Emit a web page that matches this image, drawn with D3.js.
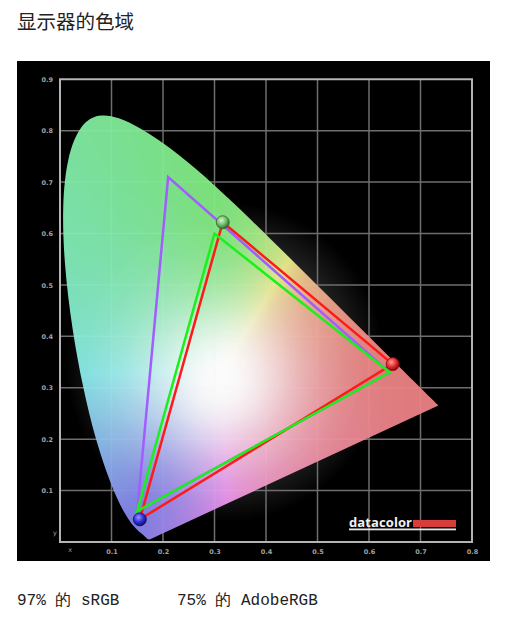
<!DOCTYPE html>
<html lang="zh">
<head>
  <meta charset="UTF-8">
  <title>显示器的色域</title>
  <style>
    body { margin: 0; background: #fff; }
  </style>
</head>
<body>
  <script src="https://cdn.jsdelivr.net/npm/d3@7/dist/d3.min.js"></script>
  <script>
// CIE 1931 光谱轨迹 (380-700nm)
const locusX = [0.1741, 0.1740, 0.1738, 0.1736, 0.1733, 0.1730, 0.1726, 0.1721, 0.1714, 0.1703,
  0.1689, 0.1669, 0.1644, 0.1611, 0.1566, 0.1510, 0.1440, 0.1355, 0.1241, 0.1096,
  0.0913, 0.0687, 0.0454, 0.0235, 0.0082, 0.0039, 0.0139, 0.0389, 0.0743, 0.1142,
  0.1547, 0.1929, 0.2296, 0.2658, 0.3016, 0.3373, 0.3731, 0.4087, 0.4441, 0.4788,
  0.5125, 0.5448, 0.5752, 0.6029, 0.6270, 0.6482, 0.6658, 0.6801, 0.6915, 0.7006,
  0.7079, 0.7140, 0.7190, 0.7230, 0.7260, 0.7283, 0.7300, 0.7311, 0.7320, 0.7347];
const locusY = [0.0050, 0.0050, 0.0049, 0.0049, 0.0048, 0.0048, 0.0048, 0.0048, 0.0051, 0.0058,
  0.0069, 0.0086, 0.0109, 0.0138, 0.0177, 0.0227, 0.0297, 0.0399, 0.0578, 0.0868,
  0.1327, 0.2007, 0.2950, 0.4127, 0.5384, 0.6548, 0.7502, 0.8120, 0.8338, 0.8262,
  0.8059, 0.7816, 0.7543, 0.7243, 0.6923, 0.6589, 0.6245, 0.5896, 0.5547, 0.5202,
  0.4866, 0.4544, 0.4242, 0.3965, 0.3725, 0.3514, 0.3340, 0.3197, 0.3083, 0.2993,
  0.2920, 0.2859, 0.2809, 0.2770, 0.2740, 0.2717, 0.2700, 0.2689, 0.2680, 0.2653];

// 三角形顶点 R, G, B
const adobeX = [0.64, 0.21, 0.15];
const adobeY = [0.33, 0.71, 0.06];
const srgbX = [0.64, 0.30, 0.15];
const srgbY = [0.33, 0.60, 0.06];
const displayX = [0.646, 0.316, 0.155];
const displayY = [0.346, 0.622, 0.044];

const xTicks = [0.1, 0.2, 0.3, 0.4, 0.5, 0.6, 0.7, 0.8];
const yTicks = [0.1, 0.2, 0.3, 0.4, 0.5, 0.6, 0.7, 0.8, 0.9];
const footTexts = ['97% 的 sRGB', '75% 的 AdobeRGB'];

const width = 526, height = 624;

const svg = d3.select('body').append('svg')
  .attr('width', width)
  .attr('height', height);

// 标题
svg.append('text')
  .attr('x', 17).attr('y', 29)
  .attr('font-family', '"Noto Sans CJK SC", sans-serif')
  .attr('font-size', 19.5)
  .attr('fill', '#222')
  .text('显示器的色域');

// 黑色背景
svg.append('rect')
  .attr('x', 17).attr('y', 61)
  .attr('width', 473).attr('height', 500)
  .attr('fill', '#000');

const xScale = d3.scaleLinear().domain([0, 0.8]).range([60, 472]);
const yScale = d3.scaleLinear().domain([0, 0.9]).range([542, 79.3]);

const defs = svg.append('defs');

// 白点周围的光晕
const glow = defs.append('radialGradient').attr('id', 'glow');
glow.append('stop').attr('offset', '0%').attr('stop-color', '#fff').attr('stop-opacity', 0.8);
glow.append('stop').attr('offset', '45%').attr('stop-color', '#fff').attr('stop-opacity', 0.28);
glow.append('stop').attr('offset', '100%').attr('stop-color', '#fff').attr('stop-opacity', 0);

svg.append('circle')
  .attr('cx', xScale(0.32)).attr('cy', yScale(0.35))
  .attr('r', 160)
  .attr('fill', 'url(#glow)');

// 网格
const grid = svg.append('g').attr('stroke', '#6e6e6e').attr('stroke-width', 1.5);
grid.selectAll('.vx').data(xTicks.slice(0, -1)).enter().append('line')
  .attr('x1', d => xScale(d)).attr('x2', d => xScale(d))
  .attr('y1', yScale(0)).attr('y2', yScale(0.9));
grid.selectAll('.hy').data(yTicks.slice(0, -1)).enter().append('line')
  .attr('x1', xScale(0)).attr('x2', xScale(0.8))
  .attr('y1', d => yScale(d)).attr('y2', d => yScale(d));

// 色度图填色
const locus = locusX.map((x, i) => [x, locusY[i]]);
const line = d3.line().x(d => xScale(d[0])).y(d => yScale(d[1]));
const smooth = d3.line().x(d => xScale(d[0])).y(d => yScale(d[1])).curve(d3.curveBasis);

defs.append('clipPath').attr('id', 'locus-clip')
  .append('path').attr('d', smooth(locus) + 'Z');

const x0 = Math.floor(xScale(0)), x1 = Math.ceil(xScale(0.8));
const y0 = Math.floor(yScale(0.9)), y1 = Math.ceil(yScale(0));
const cw = x1 - x0, ch = y1 - y0;
const canvas = document.createElement('canvas');
canvas.width = cw; canvas.height = ch;
const ctx = canvas.getContext('2d');
const img = ctx.createImageData(cw, ch);
for (let py = 0; py < ch; py++) {
  for (let px = 0; px < cw; px++) {
    const cx = xScale.invert(x0 + px + 0.5);
    const cy = Math.max(yScale.invert(y0 + py + 0.5), 0.004);
    const X = cx / cy, Y = 1, Z = Math.max(1 - cx - cy, 0) / cy;
    let r = 3.2406 * X - 1.5372 * Y - 0.4986 * Z;
    let g = -0.9689 * X + 1.8758 * Y + 0.0415 * Z;
    let b = 0.0557 * X - 0.2040 * Y + 1.0570 * Z;
    const m = Math.min(r, g, b);
    if (m < 0) { r -= m; g -= m; b -= m; }
    const M = Math.max(r, g, b) || 1;
    r /= M; g /= M; b /= M;
    // 淡化 + 白点光晕
    const d = Math.hypot(cx - 0.31, cy - 0.31) / 0.17;
    const w = Math.exp(-(d * d));
    const c = [r, g, b].map(v => {
      const p = 0.92 * (0.55 + 0.45 * Math.pow(v, 1.5));
      return (p * (1 - w) + w) * 255;
    });
    const k = (py * cw + px) * 4;
    img.data[k] = c[0]; img.data[k + 1] = c[1]; img.data[k + 2] = c[2]; img.data[k + 3] = 255;
  }
}
ctx.putImageData(img, 0, 0);

svg.append('image')
  .attr('x', x0).attr('y', y0)
  .attr('width', cw).attr('height', ch)
  .attr('preserveAspectRatio', 'none')
  .attr('opacity', 0.95)
  .attr('clip-path', 'url(#locus-clip)')
  .attr('href', canvas.toDataURL());

// 边框
svg.append('path')
  .attr('d', `M${xScale(0.8)},${yScale(0)}L${xScale(0)},${yScale(0)}L${xScale(0)},${yScale(0.9)}L${xScale(0.8)},${yScale(0.9)}Z`)
  .attr('fill', 'none')
  .attr('stroke', '#b4b4b4')
  .attr('stroke-width', 2);

// 坐标轴
const xAxis = svg.append('g')
  .attr('transform', `translate(0, ${yScale(0) + 3})`)
  .call(d3.axisBottom(xScale).tickValues(xTicks).tickSize(0).tickFormat(d3.format('.1f')));
const yAxis = svg.append('g')
  .attr('transform', `translate(${xScale(0) - 4}, 0)`)
  .call(d3.axisLeft(yScale).tickValues(yTicks).tickSize(0).tickFormat(d3.format('.1f')));
[xAxis, yAxis].forEach(a => {
  a.select('.domain').remove();
  a.selectAll('text')
    .attr('fill', '#a0a0a0')
    .attr('font-family', '"DejaVu Sans", sans-serif')
    .attr('font-weight', 'bold')
    .attr('font-size', 6.5);
});
xAxis.selectAll('text').attr('dy', '0.9em');
svg.append('text').attr('x', xScale(0.02)).attr('y', yScale(0) + 10)
  .attr('fill', '#a0a0a0').attr('font-size', 6.5).attr('text-anchor', 'middle')
  .attr('font-family', '"DejaVu Sans", sans-serif').text('x');
svg.append('text').attr('x', xScale(0) - 5).attr('y', yScale(0.013))
  .attr('fill', '#a0a0a0').attr('font-size', 6.5).attr('text-anchor', 'middle')
  .attr('font-family', '"DejaVu Sans", sans-serif').text('y');

// 三角形
const tri = (xs, ys) => line(xs.map((x, i) => [x, ys[i]])) + 'Z';
const triangles = [
  { xs: adobeX, ys: adobeY, color: '#a25cff' },
  { xs: displayX, ys: displayY, color: '#ff1a1a' },
  { xs: srgbX, ys: srgbY, color: '#1af01a' }
];
svg.selectAll('.tri').data(triangles).enter().append('path')
  .attr('class', 'tri')
  .attr('d', d => tri(d.xs, d.ys))
  .attr('fill', 'none')
  .attr('stroke', d => d.color)
  .attr('stroke-width', 2.5)
  .attr('stroke-linejoin', 'miter');

// 测量点小球
const balls = [
  { color: '#e23030', light: '#ff9a9a', dark: '#8a0808' },
  { color: '#6fc06a', light: '#d6f5d0', dark: '#2f6a2a' },
  { color: '#3030d8', light: '#9a9aff', dark: '#10106a' }
];
balls.forEach((b, i) => {
  const gr = defs.append('radialGradient').attr('id', 'ball' + i)
    .attr('cx', '40%').attr('cy', '35%').attr('r', '65%');
  gr.append('stop').attr('offset', '0%').attr('stop-color', b.light);
  gr.append('stop').attr('offset', '55%').attr('stop-color', b.color);
  gr.append('stop').attr('offset', '100%').attr('stop-color', b.dark);
});
svg.selectAll('.ball').data(balls).enter().append('circle')
  .attr('class', 'ball')
  .attr('cx', (d, i) => xScale(displayX[i]))
  .attr('cy', (d, i) => yScale(displayY[i]))
  .attr('r', 6.5)
  .attr('fill', (d, i) => `url(#ball${i})`)
  .attr('stroke', d => d.dark)
  .attr('stroke-width', 0.8);

// datacolor 标志
const logo = svg.append('g');
logo.append('text')
  .attr('x', 349).attr('y', 527)
  .attr('font-family', '"Open Sans", sans-serif')
  .attr('font-weight', 'bold')
  .attr('font-size', 13)
  .attr('textLength', 63)
  .attr('fill', '#f2f2f2')
  .text('datacolor');
logo.append('rect').attr('x', 413).attr('y', 520).attr('width', 43).attr('height', 7).attr('fill', '#d63c3c');
logo.append('rect').attr('x', 349).attr('y', 528.5).attr('width', 107).attr('height', 1.8).attr('fill', '#e6e6e6');

// 底部说明
svg.selectAll('.foot').data(footTexts).enter().append('text')
  .attr('class', 'foot')
  .attr('x', (d, i) => i === 0 ? 17 : 177)
  .attr('y', 605)
  .attr('font-family', '"Liberation Mono", monospace')
  .attr('font-size', 16)
  .attr('fill', '#222')
  .attr('xml:space', 'preserve')
  .text(d => d);
  </script>
</body>
</html>
